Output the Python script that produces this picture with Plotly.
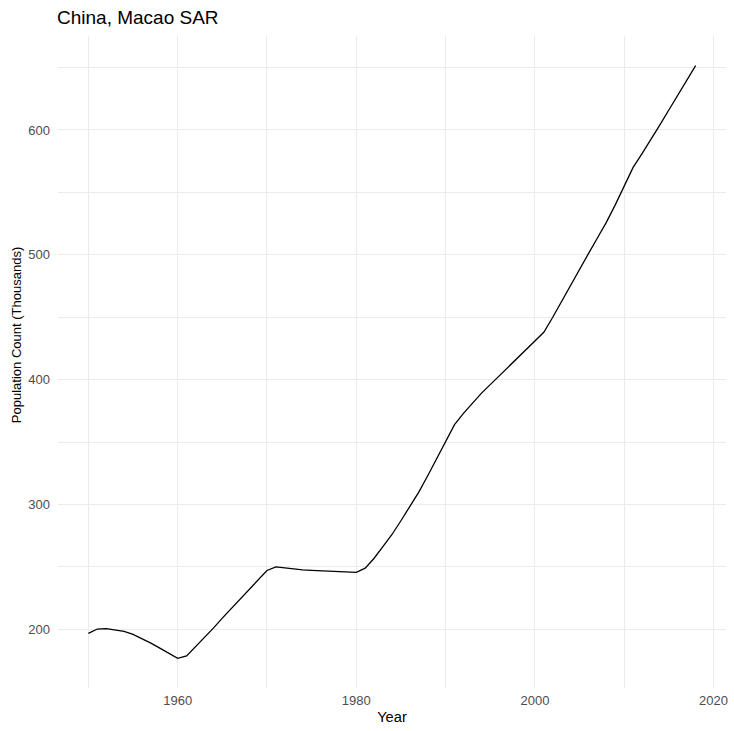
import plotly.graph_objects as go

years = list(range(1950, 2019))
population = [
    196.8, 200.3, 200.6, 199.8, 198.5, 196.0, 192.8, 189.0, 185.0, 181.0,
    176.8, 178.7, 186.0, 193.5, 201.0, 209.0, 216.5, 224.0, 232.0, 239.5,
    247.2, 250.0, 249.0, 248.2, 247.6, 247.2, 246.9, 246.6, 246.3, 245.9,
    245.6, 249.0, 257.0, 266.5, 276.0, 287.0, 298.0, 310.0, 323.0, 337.0,
    350.5, 364.0, 373.0, 381.0, 389.0, 396.0, 403.0, 410.0, 417.0, 424.0,
    431.0, 438.0, 450.0, 463.0, 476.0, 488.5, 501.0, 513.5, 526.0, 540.0,
    555.0, 570.0, 581.0, 592.0, 604.0, 616.0, 628.0, 640.0, 651.5,
]
x_ticks = [1960, 1980, 2000, 2020]
y_ticks = [200, 300, 400, 500, 600]

title_text = "China, Macao SAR"
x_title = "Year"
y_title = "Population Count (Thousands)"

fig = go.Figure(go.Scatter(x=years, y=population, mode="lines",
                           line=dict(color="black", width=1.3),
                           hoverinfo="x+y"))

font_family = "Liberation Sans, Arial, sans-serif"
grid = "#ebebeb"
xr = [1950 - 0.05 * 68, 2018 + 0.05 * 68]
ymin, ymax = min(population), max(population)
yr = [ymin - 0.05 * (ymax - ymin), ymax + 0.05 * (ymax - ymin)]

W, H = 734, 731
fig.update_layout(
    width=W, height=H,
    margin=dict(l=58, r=6, t=36, b=43),
    paper_bgcolor="white", plot_bgcolor="white",
    showlegend=False,
    font=dict(family=font_family, color="black"),
    title=dict(text=title_text, x=57 / W, xanchor="left", y=1 - 17 / H,
               yanchor="middle", font=dict(size=19, color="black", family=font_family)),
    xaxis=dict(range=xr, tickvals=x_ticks, ticktext=[str(v) for v in x_ticks],
               showgrid=True, gridcolor=grid, gridwidth=1.1, zeroline=False,
               showline=False, ticks="", ticklabelstandoff=3,
               tickfont=dict(size=13, color="#4d4d4d"),
               minor=dict(dtick=10, tick0=1950, showgrid=True, gridcolor=grid, gridwidth=0.6),
               title=dict(text=x_title, font=dict(size=14.7, color="black"), standoff=4)),
    yaxis=dict(range=yr, tickvals=y_ticks, ticktext=[str(v) for v in y_ticks],
               showgrid=True, gridcolor=grid, gridwidth=1.1, zeroline=False,
               showline=False, ticks="", ticklabelstandoff=7,
               tickfont=dict(size=13, color="#4d4d4d"),
               minor=dict(dtick=50, tick0=150, showgrid=True, gridcolor=grid, gridwidth=0.6)),
    annotations=[dict(text=y_title, textangle=-90, xref="paper", yref="paper",
                      x=-42 / (W - 64), y=1 - (335 - 36) / (H - 79),
                      xanchor="center", yanchor="middle", showarrow=False,
                      font=dict(size=13, color="black", family=font_family))],
)

fig.write_html("out.html", config={"displayModeBar": False},
               post_script="document.body.style.margin='0';document.body.style.overflow='hidden';")
